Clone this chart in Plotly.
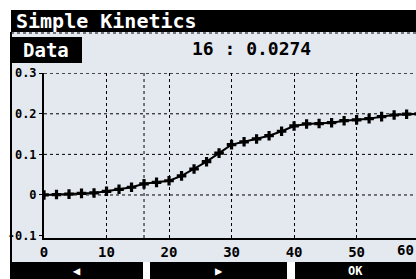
import plotly.graph_objects as go

# ---- data ----
time_s = [0, 2, 4, 6, 8, 10, 12, 14, 16, 18, 20, 22, 24, 26, 28, 30,
          32, 34, 36, 38, 40, 42, 44, 46, 48, 50, 52, 54, 56, 58, 60]
absorb = [0.0, 0.001, 0.002, 0.004, 0.005, 0.009, 0.014, 0.019, 0.0274, 0.031,
          0.035, 0.047, 0.064, 0.082, 0.103, 0.124, 0.131, 0.138, 0.146, 0.157,
          0.170, 0.175, 0.176, 0.178, 0.183, 0.185, 0.188, 0.193, 0.197, 0.199, 0.200]
x_ticks = [0, 10, 20, 30, 40, 50]
x_tick_text = ["0", "10", "20", "30", "40", "50"]
y_ticks = [-0.1, 0, 0.1, 0.2, 0.3]
y_tick_text = ["-0.1", "0", "0.1", "0.2", "0.3"]
grid_y = [0, 0.1, 0.2, 0.3]
cursor_t = 16
cursor_text = "16 : 0.0274"
title_text = "Simple Kinetics"
mode_text = "Data"
buttons = ["◀", "▶", "OK"]

W, H = 416, 279
L, R, T, B = 44, 0, 73, 41
PW, PH = W - L - R, H - T - B
FONT = "DejaVu Sans Mono"
PANEL = "#e4e8ef"


def px(x):
    return (x - L) / PW


def py(y):
    return (H - B - y) / PH


fig = go.Figure()
fig.add_trace(go.Scatter(
    x=time_s, y=absorb, mode="lines+markers",
    line=dict(color="black", width=2),
    marker=dict(symbol="cross", size=8, color="black"),
    showlegend=False, hoverinfo="skip",
))

shapes = []
# panel background
shapes.append(dict(type="rect", xref="paper", yref="paper", x0=px(11), x1=px(W), y0=py(262), y1=py(32),
                   fillcolor=PANEL, line=dict(width=0), layer="below"))
# left border
shapes.append(dict(type="line", xref="paper", yref="paper", x0=px(11), x1=px(11), y0=py(H), y1=py(32),
                   line=dict(color="black", width=2)))
# title bar
shapes.append(dict(type="rect", xref="paper", yref="paper", x0=px(11), x1=px(W), y0=py(32), y1=py(10),
                   fillcolor="black", line=dict(width=0)))
shapes.append(dict(type="line", xref="paper", yref="paper", x0=px(11), x1=px(W), y0=py(33), y1=py(33),
                   line=dict(color="black", width=1, dash="dot")))
# Data box
shapes.append(dict(type="rect", xref="paper", yref="paper", x0=px(11), x1=px(82), y0=py(63), y1=py(37),
                   fillcolor="black", line=dict(width=0)))
# bottom buttons
btn_x = [(11, 143), (150, 287), (295, W)]
for (a, b) in btn_x:
    shapes.append(dict(type="rect", xref="paper", yref="paper", x0=px(a), x1=px(b), y0=py(H), y1=py(262),
                       fillcolor="black", line=dict(width=0)))
# grid lines
for gy in grid_y:
    shapes.append(dict(type="line", xref="paper", yref="y", x0=0, x1=1, y0=gy, y1=gy,
                       line=dict(color="black", width=1, dash="dot"), layer="below"))
# cursor line
shapes.append(dict(type="line", xref="x", yref="paper", x0=cursor_t, x1=cursor_t, y0=0, y1=1,
                   line=dict(color="black", width=1, dash="dot"), layer="below"))

annotations = [
    dict(text=title_text, xref="paper", yref="paper", x=px(14), y=py(21), xanchor="left", yanchor="middle",
         showarrow=False, font=dict(family=FONT, size=20, color="white", weight="bold")),
    dict(text=mode_text, xref="paper", yref="paper", x=px(46), y=py(50), xanchor="center", yanchor="middle",
         showarrow=False, font=dict(family=FONT, size=19, color="white", weight="bold")),
    dict(text=cursor_text, xref="paper", yref="paper", x=px(252), y=py(49), xanchor="center", yanchor="middle",
         showarrow=False, font=dict(family=FONT, size=18, color="black", weight="bold")),
    dict(text="60", xref="paper", yref="paper", x=px(416), y=py(250), xanchor="right", yanchor="middle",
         showarrow=False, font=dict(family=FONT, size=14, color="black", weight="bold")),
]
for (a, b), lab in zip(btn_x, buttons):
    annotations.append(dict(text=lab, xref="paper", yref="paper", x=px((a + b) / 2), y=py(270.5),
                            xanchor="center", yanchor="middle", showarrow=False,
                            font=dict(family=FONT, size=12, color="white", weight="bold")))

fig.update_layout(
    width=W, height=H,
    margin=dict(l=L, r=R, t=T, b=B),
    paper_bgcolor="white", plot_bgcolor=PANEL,
    shapes=shapes, annotations=annotations,
    xaxis=dict(range=[0, 59.5], tickvals=x_ticks, ticktext=x_tick_text,
               showgrid=True, gridcolor="black", griddash="dot", gridwidth=1,
               showline=True, linecolor="black", linewidth=2, zeroline=False,
               ticks="", tickfont=dict(family=FONT, size=14, color="black", weight="bold")),
    yaxis=dict(range=[-0.106, 0.3005], tickvals=y_ticks, ticktext=y_tick_text,
               showgrid=False, showline=True, linecolor="black", linewidth=2, zeroline=False,
               ticks="outside", ticklen=3, tickcolor="black",
               tickfont=dict(family=FONT, size=12, color="black", weight="bold")),
)

fig.write_html("out.html", config={"displayModeBar": False},
               post_script="document.body.style.margin='0';document.body.style.overflow='hidden';")
